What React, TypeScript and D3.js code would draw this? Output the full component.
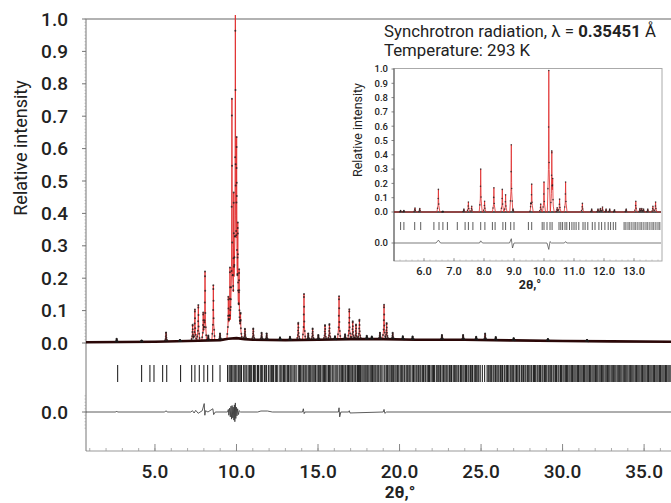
import * as d3 from "d3";

// main pattern: peak positions (2θ, deg) and relative heights
const peakPos = [2.65, 4.18, 5.68, 6.53, 7.31, 7.45, 7.66, 7.96, 8.07, 8.27, 8.58, 8.99, 9.5, 9.6, 9.72, 9.83, 9.93, 10.01, 10.08, 10.16, 10.25, 10.52, 11.03, 11.54, 11.85, 12.67, 13.28, 13.79, 14.14, 14.4, 14.67, 15.02, 15.43, 15.7, 16.04, 16.29, 16.66, 16.92, 17.13, 17.33, 17.54, 17.99, 18.3, 18.8, 19.05, 19.21, 19.58, 20.2, 20.8, 22.6, 23.9, 24.7, 25.25, 25.9, 27.0, 29.1, 31.5];
const peakHeight = [0.01, 0.004, 0.028, 0.004, 0.05, 0.097, 0.11, 0.087, 0.213, 0.015, 0.17, 0.02, 0.13, 0.22, 0.74, 0.45, 1.0, 0.55, 0.3, 0.2, 0.08, 0.032, 0.035, 0.022, 0.02, 0.008, 0.01, 0.053, 0.142, 0.02, 0.035, 0.015, 0.045, 0.048, 0.01, 0.133, 0.015, 0.092, 0.055, 0.045, 0.06, 0.01, 0.008, 0.02, 0.106, 0.05, 0.02, 0.01, 0.01, 0.015, 0.015, 0.01, 0.02, 0.01, 0.007, 0.006, 0.004];

// background level
const bgPos = [0.5, 3, 5, 7, 9, 9.5, 10, 10.5, 11, 13, 15, 17, 19, 21, 24, 27, 30, 33, 37];
const bgVal = [0.002, 0.003, 0.004, 0.006, 0.009, 0.013, 0.015, 0.012, 0.01, 0.009, 0.01, 0.012, 0.012, 0.01, 0.01, 0.008, 0.006, 0.005, 0.004];

// difference curve (obs - calc)
const diffPos = [0.5, 2.6, 2.65, 2.7, 5.6, 5.68, 5.75, 7.2, 7.3, 7.4, 7.5, 7.65, 7.9, 8.02, 8.06, 8.1, 8.25, 8.55, 8.6, 8.7,
  9.45, 9.5, 9.53, 9.58, 9.62, 9.66, 9.7, 9.73, 9.77, 9.8, 9.84, 9.87, 9.9, 9.93, 9.96, 9.99, 10.03, 10.07, 10.12, 10.17, 10.25,
  11.3, 11.5, 11.9, 12.2, 14.05, 14.1, 14.15, 14.2, 16.25, 16.29, 16.33, 16.4, 16.88, 16.92, 16.96, 19.0, 19.05, 19.1, 19.2, 37];
const diffVal = [0, 0, 0.003, 0, 0, 0.004, 0, 0, 0.004, -0.003, 0.005, -0.004, 0.004, 0.026, -0.01, 0.004, 0, 0.01, -0.008, 0,
  0, 0.008, -0.01, 0.012, -0.015, 0.018, -0.022, 0.02, -0.018, 0.015, -0.025, 0.022, -0.03, 0.028, -0.02, 0.015, -0.012, 0.01, -0.008, 0.004, 0,
  0, 0.003, 0.003, 0, 0, 0.01, -0.005, 0, 0, 0.013, -0.015, 0, 0, 0.004, -0.003, 0, 0.008, -0.004, 0, 0];

// reflection positions
const reflections = [2.71, 4.18, 4.69, 4.94, 5.47, 5.72, 6.57, 7.25, 7.45, 7.72, 8.0, 8.23, 8.54, 8.99, 9.45, 9.55, 9.62, 9.7, 9.78, 9.86, 9.93,
  10.02, 10.11, 10.17, 10.26, 10.31, 10.44, 10.52, 10.6, 10.71, 10.79, 10.85, 10.93, 11.04, 11.1, 11.18, 11.29, 11.35, 11.46, 11.54, 11.61, 11.72, 11.8, 11.85, 11.97,
  12.06, 12.14, 12.2, 12.27, 12.38, 12.45, 12.53, 12.66, 12.72, 12.79, 12.88, 12.95, 13.03, 13.12, 13.19, 13.28, 13.34, 13.41, 13.52, 13.58, 13.66, 13.79, 13.86, 13.92,
  14.01, 14.09, 14.14, 14.22, 14.31, 14.4, 14.47, 14.55, 14.63, 14.7, 14.77, 14.85, 14.94, 15.02, 15.08, 15.16, 15.25, 15.33, 15.4, 15.47, 15.55, 15.64, 15.7, 15.78, 15.87, 15.93,
  16.04, 16.11, 16.18, 16.29, 16.35, 16.43, 16.5, 16.58, 16.66, 16.71, 16.8, 16.87, 16.92, 17.01, 17.08, 17.13, 17.21, 17.28, 17.33, 17.42, 17.48, 17.54, 17.61, 17.69, 17.76, 17.83, 17.9, 17.99,
  18.05, 18.12, 18.2, 18.27, 18.34, 18.42, 18.49, 18.55, 18.63, 18.7, 18.8, 18.86, 18.93, 19.05, 19.11, 19.21, 19.27, 19.35, 19.42, 19.5, 19.58, 19.64, 19.72, 19.79, 19.87, 19.95,
  20.04, 20.11, 20.17, 20.27, 20.32, 20.41, 20.48, 20.57, 20.63, 20.7, 20.81, 20.86, 20.94, 21.02, 21.08, 21.17, 21.25, 21.31, 21.4, 21.47, 21.56, 21.61, 21.7, 21.78, 21.84, 21.93,
  22.01, 22.08, 22.14, 22.25, 22.31, 22.38, 22.47, 22.52, 22.61, 22.69, 22.74, 22.84, 22.9, 22.97, 23.06, 23.14, 23.19, 23.29, 23.36, 23.42, 23.51, 23.59, 23.64, 23.74, 23.81, 23.89, 23.96,
  24.05, 24.11, 24.2, 24.26, 24.35, 24.43, 24.48, 24.58, 24.65, 24.71, 24.8, 24.86, 24.95, 25.08, 25.22, 25.37, 25.44, 25.5, 25.59, 25.65, 25.74, 25.8, 25.89, 25.97,
  26.04, 26.1, 26.19, 26.27, 26.32, 26.42, 26.47, 26.57, 26.62, 26.7, 26.79, 26.85, 26.94, 27.0, 27.09, 27.17, 27.22, 27.32, 27.37, 27.47, 27.52, 27.6, 27.69, 27.75, 27.84, 27.9, 27.99,
  28.07, 28.12, 28.22, 28.28, 28.35, 28.44, 28.5, 28.59, 28.65, 28.74, 28.8, 28.89, 28.96, 29.03, 29.12, 29.18, 29.27, 29.33, 29.42, 29.48, 29.57, 29.63, 29.72, 29.78, 29.87, 29.93,
  30.02, 30.09, 30.17, 30.24, 30.31, 30.39, 30.46, 30.54, 30.61, 30.69, 30.76, 30.83, 30.91, 30.98, 31.06, 31.13, 31.2, 31.28, 31.35, 31.43, 31.5, 31.57, 31.65, 31.72, 31.8, 31.87, 31.94,
  32.02, 32.09, 32.16, 32.24, 32.31, 32.39, 32.46, 32.53, 32.61, 32.68, 32.76, 32.83, 32.9, 32.98, 33.05, 33.13, 33.2, 33.27, 33.35, 33.42, 33.5, 33.57, 33.64, 33.72, 33.79, 33.87, 33.94,
  34.01, 34.09, 34.16, 34.24, 34.31, 34.38, 34.46, 34.53, 34.61, 34.68, 34.75, 34.83, 34.9, 34.98, 35.05, 35.12, 35.2, 35.27, 35.35, 35.42, 35.49, 35.57, 35.64, 35.72, 35.79, 35.86, 35.94,
  36.01, 36.09, 36.16, 36.23, 36.31, 36.38, 36.46, 36.53, 36.6];

// inset pattern
const insetPeakPos = [5.22, 5.33, 5.7, 5.86, 6.48, 6.63, 7.33, 7.48, 7.59, 7.89, 8.02, 8.33, 8.61, 8.72, 8.91, 8.97, 9.56, 9.59, 9.89, 10.0, 10.16, 10.26, 10.29, 10.44, 10.52, 10.72, 11.28, 11.59, 11.8, 11.88, 11.95, 12.07, 12.19, 12.35, 12.74, 13.06, 13.2, 13.26, 13.32, 13.46, 13.63, 13.72];
const insetPeakHeight = [0.01, 0.01, 0.028, 0.025, 0.158, 0.005, 0.02, 0.07, 0.04, 0.3, 0.075, 0.17, 0.158, 0.12, 0.47, 0.02, 0.03, 0.19, 0.055, 0.21, 0.99, 0.4, 0.17, 0.03, 0.09, 0.21, 0.06, 0.02, 0.02, 0.025, 0.035, 0.02, 0.02, 0.015, 0.02, 0.075, 0.025, 0.025, 0.02, 0.02, 0.04, 0.07];
const insetReflections = [5.22, 5.33, 5.69, 5.89, 6.33, 6.5, 6.63, 6.78, 7.11, 7.37, 7.48, 7.63, 7.89, 8.03, 8.28, 8.37, 8.63, 8.72, 8.89, 9.0, 9.48, 9.59, 9.94, 10.0, 10.1, 10.2, 10.27, 10.5, 10.56, 10.62, 10.7, 10.76, 10.85, 10.93, 11.0, 11.07, 11.16, 11.3, 11.37, 11.46, 11.61, 11.7, 11.83, 11.92, 12.03, 12.14, 12.22, 12.31, 12.39, 12.67, 12.73, 12.8, 12.86, 12.93, 13.0, 13.06, 13.13, 13.2, 13.26, 13.33, 13.4, 13.46, 13.53, 13.6, 13.66, 13.73, 13.8, 13.86];
const insetDiffPos = [5.0, 6.4, 6.48, 6.55, 7.85, 7.89, 7.95, 8.85, 8.91, 8.95, 9.0, 10.1, 10.16, 10.2, 10.25, 10.68, 10.72, 10.76, 13.9];
const insetDiffVal = [0, 0, 0.02, 0, 0, 0.015, 0, 0, 0.03, -0.035, 0, 0, -0.045, 0.01, 0, 0, 0.01, 0, 0];

const xTicksMain = [5, 10, 15, 20, 25, 30, 35];
const yTicksMain = [0, 0.1, 0.2, 0.3, 0.4, 0.5, 0.6, 0.7, 0.8, 0.9, 1.0];
const xTicksInset = [6, 7, 8, 9, 10, 11, 12, 13];

const FONT = "Roboto, 'Noto Sans', sans-serif";
const RED = "#e02b2b";
const fmt = d3.format(".1f");

// piecewise-linear peak profile (shape knots relative to peak half-width)
function profile(pos: number[], h: number[], w: number, bg: (t: number) => number) {
  const shape = (d: number) => {
    const a = Math.abs(d);
    if (a >= w) return 0;
    if (a <= w / 4) return 1 - 0.7 * (a / (w / 4));
    return 0.3 * (1 - (a - w / 4) / (w * 0.75));
  };
  return (t: number) => bg(t) + d3.sum(pos, (p, i) => h[i] * shape(t - p));
}

function buildPattern(pos: number[], h: number[], w: number, bg: (t: number) => number, knots: number[], fracs: number[]) {
  const f = profile(pos, h, w, bg);
  const ts: number[] = [...knots];
  pos.forEach((p) => ts.push(p - w, p - w / 4, p, p + w / 4, p + w));
  ts.sort((a, b) => a - b);
  const line = ts.map((t) => [t, f(t)] as [number, number]);
  const dots: [number, number][] = [];
  pos.forEach((p) => {
    fracs.forEach((fr, k) => {
      const side = k % 2 === 0 ? 1 : -1;
      const off = fr >= 0.3 ? ((1 - fr) / 0.7) * (w / 4) : w / 4 + (1 - fr / 0.3) * (w * 0.75) * 0.9;
      const t = p + side * off;
      dots.push([t, f(t)]);
    });
  });
  return { line, dots };
}

export default function App() {
  // main scales
  const x = d3.scaleLinear().domain([0.77, 36.65]).range([86, 671]);
  const y = d3.scaleLinear().domain([0, 1]).range([343, 19]);
  const yd = d3.scaleLinear().domain([-0.1, 0.1]).range([444.4, 379.6]);
  const bg = d3.scaleLinear<number>().domain(bgPos).range(bgVal);

  const main = buildPattern(peakPos, peakHeight, 0.09, (t) => bg(t), bgPos, [1, 0.93, 0.72, 0.55, 0.4, 0.28, 0.18, 0.1, 0.05]);
  const mainLine = d3.line<[number, number]>().x((d) => x(d[0])).y((d) => y(d[1]));
  const bgLine = d3.line<number>().x((d) => x(d)).y((_, i) => y(bgVal[i]));
  const diffLine = d3.line<number>().x((d) => x(d)).y((_, i) => yd(diffVal[i]));

  // inset scales
  const xi = d3.scaleLinear().domain([5.0, 13.9]).range([394, 661]);
  const yi = d3.scaleLinear().domain([0, 1]).range([212, 69]);
  const ydi = d3.scaleLinear().domain([-0.1, 0.1]).range([257.3, 228.7]);
  const inset = buildPattern(insetPeakPos, insetPeakHeight, 0.05, () => 0, [5.0, 13.9], [1, 0.6, 0.35, 0.15]);
  const insetLine = d3.line<[number, number]>().x((d) => xi(d[0])).y((d) => yi(d[1]));
  const insetDiff = d3.line<number>().x((d) => xi(d)).y((_, i) => ydi(insetDiffVal[i]));

  const yMinor = d3.range(0, 1.001, 0.01);
  const dMinor = d3.range(-0.05, 0.0501, 0.01);
  const xMinor = d3.range(1, 37, 1);
  const xiMinor = d3.range(5.2, 13.9, 0.2);

  return (
    <svg width={671} height={503} style={{ position: "fixed", left: 0, top: 0, background: "#fff" }} fontFamily={FONT}>
      <defs>
        <clipPath id="plotClip">
          <rect x={86} y={15} width={585} height={436} />
        </clipPath>
      </defs>

      {/* frame */}
      <line x1={86} x2={671} y1={19} y2={19} stroke="#999" strokeWidth={1.5} />
      <line x1={86} x2={671} y1={451} y2={451} stroke="#999" strokeWidth={1.2} />
      <line x1={86} x2={86} y1={19} y2={451} stroke="#777" strokeWidth={1} />

      {/* y axis */}
      {yMinor.map((v) => (
        <line key={"ym" + v} x1={84.5} x2={86} y1={y(v)} y2={y(v)} stroke="#999" strokeWidth={0.6} />
      ))}
      {yTicksMain.map((v) => (
        <g key={"yt" + v}>
          <line x1={82} x2={86} y1={y(v)} y2={y(v)} stroke="#777" />
          <text x={68} y={y(v)} dy="0.35em" textAnchor="end" fontSize={19} fontWeight={500} fill="#222">{fmt(v)}</text>
        </g>
      ))}
      {dMinor.map((v) => (
        <line key={"dm" + v} x1={84.5} x2={86} y1={yd(v)} y2={yd(v)} stroke="#999" strokeWidth={0.6} />
      ))}
      <line x1={82} x2={86} y1={yd(0)} y2={yd(0)} stroke="#777" />
      <text x={68} y={yd(0)} dy="0.35em" textAnchor="end" fontSize={19} fontWeight={500} fill="#222">0.0</text>
      <text transform="translate(27,148) rotate(-90)" textAnchor="middle" fontSize={18} fill="#222">Relative intensity</text>

      {/* x axis */}
      {xMinor.map((v) => (
        <line key={"xm" + v} x1={x(v)} x2={x(v)} y1={451} y2={448} stroke="#999" strokeWidth={0.8} />
      ))}
      {xTicksMain.map((v) => (
        <g key={"xt" + v}>
          <line x1={x(v)} x2={x(v)} y1={451} y2={444} stroke="#888" />
          <text x={x(v)} y={478} textAnchor="middle" fontSize={19} fontWeight={500} fill="#222">{fmt(v)}</text>
        </g>
      ))}
      <text x={400} y={498} textAnchor="middle" fontSize={17} fontWeight={700} fill="#222">2θ,°</text>

      <g clipPath="url(#plotClip)">
        {/* reflections */}
        {reflections.map((r, i) => (
          <line key={"rf" + i} x1={x(r)} x2={x(r)} y1={365} y2={382} stroke="#111" strokeWidth={1.1} strokeOpacity={0.9} />
        ))}
        {/* difference */}
        <path d={diffLine(diffPos) || ""} fill="none" stroke="#333" strokeWidth={0.8} />
        {/* calculated */}
        <path d={mainLine(main.line) || ""} fill="none" stroke={RED} strokeWidth={0.9} />
        {/* observed baseline */}
        <path d={bgLine(bgPos) || ""} fill="none" stroke="#2a0707" strokeWidth={2.6} />
        {/* observed points */}
        {main.dots.map((d, i) => (
          <circle key={"od" + i} cx={x(d[0])} cy={y(d[1])} r={1} fill="#1b1b1b" fillOpacity={0.75} />
        ))}
      </g>

      {/* title */}
      <text x={384} y={37} fontSize={16.8} fill="#222">
        Synchrotron radiation, λ = <tspan fontWeight={700}>0.35451</tspan> Å
      </text>
      <text x={384} y={56} fontSize={16.8} fill="#222">Temperature: 293 K</text>

      {/* inset */}
      <rect x={394} y={68.5} width={268} height={192.5} fill="#fff" stroke="#aaa" strokeWidth={1} />
      <line x1={394} x2={394} y1={68.5} y2={261} stroke="#555" strokeWidth={1} />
      {yTicksMain.map((v) => (
        <g key={"iy" + v}>
          <line x1={391.5} x2={394} y1={yi(v)} y2={yi(v)} stroke="#666" strokeWidth={0.8} />
          <text x={388} y={yi(v)} dy="0.35em" textAnchor="end" fontSize={9.5} fontWeight={500} fill="#222">{fmt(v)}</text>
        </g>
      ))}
      <line x1={391.5} x2={394} y1={ydi(0)} y2={ydi(0)} stroke="#666" strokeWidth={0.8} />
      <text x={388} y={ydi(0)} dy="0.35em" textAnchor="end" fontSize={9.5} fontWeight={500} fill="#222">0.0</text>
      <text transform="translate(362,130) rotate(-90)" textAnchor="middle" fontSize={12.5} fill="#222">Relative intensity</text>
      {xiMinor.map((v) => (
        <line key={"xim" + v} x1={xi(v)} x2={xi(v)} y1={261} y2={259.5} stroke="#aaa" strokeWidth={0.6} />
      ))}
      {xTicksInset.map((v) => (
        <g key={"xi" + v}>
          <line x1={xi(v)} x2={xi(v)} y1={261} y2={258} stroke="#888" strokeWidth={0.8} />
          <text x={xi(v)} y={275} textAnchor="middle" fontSize={11} fontWeight={500} fill="#222">{fmt(v)}</text>
        </g>
      ))}
      <text x={530} y={289} textAnchor="middle" fontSize={12.5} fontWeight={700} fill="#222">2θ,°</text>
      {insetReflections.map((r, i) => (
        <line key={"irf" + i} x1={xi(r)} x2={xi(r)} y1={222} y2={230} stroke="#333" strokeWidth={0.8} />
      ))}
      <path d={insetDiff(insetDiffPos) || ""} fill="none" stroke="#444" strokeWidth={0.7} />
      <line x1={394} x2={661} y1={212} y2={212} stroke="#222" strokeWidth={1.6} />
      <path d={insetLine(inset.line) || ""} fill="none" stroke={RED} strokeWidth={0.8} />
      {inset.dots.map((d, i) => (
        <circle key={"id" + i} cx={xi(d[0])} cy={yi(d[1])} r={0.8} fill="#222" fillOpacity={0.8} />
      ))}
    </svg>
  );
}
